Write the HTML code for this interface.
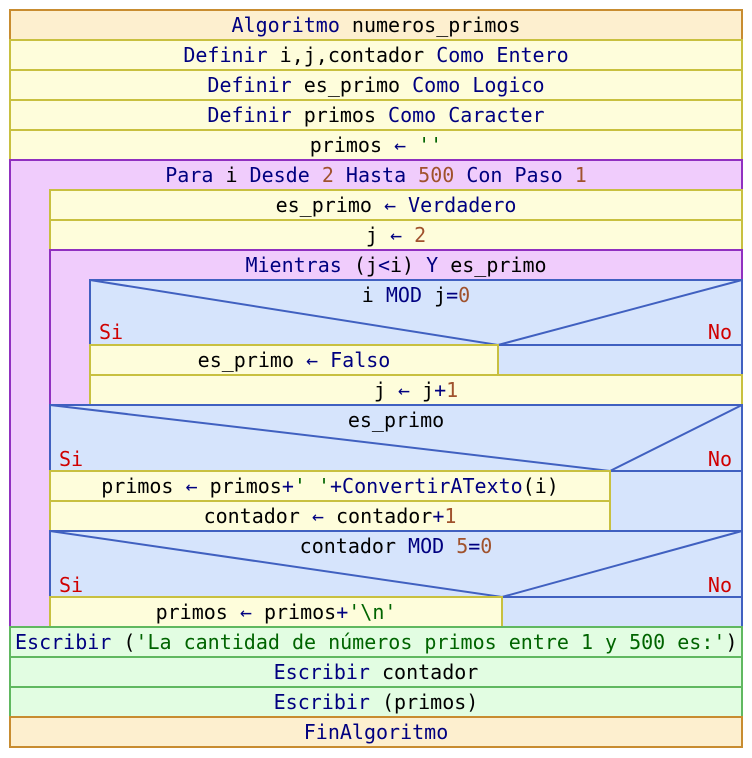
<!DOCTYPE html>
<html><head><meta charset="utf-8"><style>
body{margin:0;background:#fff}
svg{display:block}
text{font-family:"DejaVu Sans Mono","Liberation Mono",monospace;font-size:20px;fill:#000080}
.b{fill:#000}.n{fill:#a0522d}.s{fill:#006400}.r{fill:#d00000}
</style></head><body>
<svg width="752" height="758" viewBox="0 0 752 758" xmlns="http://www.w3.org/2000/svg">
<g stroke-width="2">
<!-- header rows -->
<rect x="10" y="10" width="732" height="30" fill="#fdefcf" stroke="#c88c30"/>
<rect x="10" y="40" width="732" height="30" fill="#fefddb" stroke="#c8c040"/>
<rect x="10" y="70" width="732" height="30" fill="#fefddb" stroke="#c8c040"/>
<rect x="10" y="100" width="732" height="30" fill="#fefddb" stroke="#c8c040"/>
<rect x="10" y="130" width="732" height="30" fill="#fefddb" stroke="#c8c040"/>
<!-- Para -->
<rect x="10" y="160" width="732" height="467" fill="#f0ccfc" stroke="#9030c0"/>
<rect x="50" y="190" width="692" height="30" fill="#fefddb" stroke="#c8c040"/>
<rect x="50" y="220" width="692" height="30" fill="#fefddb" stroke="#c8c040"/>
<!-- Mientras -->
<rect x="50" y="250" width="692" height="155" fill="#f0ccfc" stroke="#9030c0"/>
<!-- If1 -->
<rect x="90" y="280" width="652" height="95" fill="#d6e4fc" stroke="#4060c0"/>
<polyline points="90,280 498,345 742,280" fill="none" stroke="#4060c0"/>
<line x1="90" y1="345" x2="742" y2="345" stroke="#4060c0"/>
<rect x="90" y="345" width="408" height="30" fill="#fefddb" stroke="#c8c040"/>
<rect x="90" y="375" width="652" height="30" fill="#fefddb" stroke="#c8c040"/>
<!-- If2 -->
<rect x="50" y="405" width="692" height="126" fill="#d6e4fc" stroke="#4060c0"/>
<polyline points="50,405 610,471 742,405" fill="none" stroke="#4060c0"/>
<line x1="50" y1="471" x2="742" y2="471" stroke="#4060c0"/>
<rect x="50" y="471" width="560" height="30" fill="#fefddb" stroke="#c8c040"/>
<rect x="50" y="501" width="560" height="30" fill="#fefddb" stroke="#c8c040"/>
<!-- If3 -->
<rect x="50" y="531" width="692" height="96" fill="#d6e4fc" stroke="#4060c0"/>
<polyline points="50,531 502,597 742,531" fill="none" stroke="#4060c0"/>
<line x1="50" y1="597" x2="742" y2="597" stroke="#4060c0"/>
<rect x="50" y="597" width="452" height="30" fill="#fefddb" stroke="#c8c040"/>
<!-- Escribir -->
<rect x="10" y="627" width="732" height="30" fill="#e2fde2" stroke="#60b860"/>
<rect x="10" y="657" width="732" height="30" fill="#e2fde2" stroke="#60b860"/>
<rect x="10" y="687" width="732" height="30" fill="#e2fde2" stroke="#60b860"/>
<rect x="10" y="717" width="732" height="30" fill="#fdefcf" stroke="#c88c30"/>
</g>
<g text-anchor="middle">
<text x="376" y="32">Algoritmo <tspan class="b">numeros_primos</tspan></text>
<text x="376" y="62">Definir <tspan class="b">i,j,contador</tspan> Como Entero</text>
<text x="376" y="92">Definir <tspan class="b">es_primo</tspan> Como Logico</text>
<text x="376" y="122">Definir <tspan class="b">primos</tspan> Como Caracter</text>
<text x="376" y="152"><tspan class="b">primos</tspan> ← <tspan class="s">''</tspan></text>
<text x="376" y="182">Para <tspan class="b">i</tspan> Desde <tspan class="n">2</tspan> Hasta <tspan class="n">500</tspan> Con Paso <tspan class="n">1</tspan></text>
<text x="396" y="212"><tspan class="b">es_primo</tspan> ← Verdadero</text>
<text x="396" y="242"><tspan class="b">j</tspan> ← <tspan class="n">2</tspan></text>
<text x="396" y="272">Mientras <tspan class="b">(j</tspan>&lt;<tspan class="b">i)</tspan> Y <tspan class="b">es_primo</tspan></text>
<text x="416" y="302"><tspan class="b">i</tspan> MOD <tspan class="b">j</tspan>=<tspan class="n">0</tspan></text>
<text x="294" y="367"><tspan class="b">es_primo</tspan> ← Falso</text>
<text x="416" y="397"><tspan class="b">j</tspan> ← <tspan class="b">j</tspan>+<tspan class="n">1</tspan></text>
<text x="396" y="427"><tspan class="b">es_primo</tspan></text>
<text x="330" y="493"><tspan class="b">primos</tspan> ← <tspan class="b">primos</tspan>+<tspan class="s">' '</tspan>+ConvertirATexto<tspan class="b">(i)</tspan></text>
<text x="330" y="523"><tspan class="b">contador</tspan> ← <tspan class="b">contador</tspan>+<tspan class="n">1</tspan></text>
<text x="396" y="553"><tspan class="b">contador</tspan> MOD <tspan class="n">5</tspan>=<tspan class="n">0</tspan></text>
<text x="276" y="619"><tspan class="b">primos</tspan> ← <tspan class="b">primos</tspan>+<tspan class="s">'\n'</tspan></text>
<text x="376" y="679">Escribir <tspan class="b">contador</tspan></text>
<text x="376" y="709">Escribir <tspan class="b">(primos)</tspan></text>
<text x="376" y="739">FinAlgoritmo</text>
</g>
<text x="15" y="649">Escribir <tspan class="b">(</tspan><tspan class="s">'La cantidad de números primos entre 1 y 500 es:'</tspan><tspan class="b">)</tspan></text>
<text class="r" x="99" y="339">Si</text>
<text class="r" x="732" y="339" text-anchor="end">No</text>
<text class="r" x="59" y="466">Si</text>
<text class="r" x="732" y="466" text-anchor="end">No</text>
<text class="r" x="59" y="592">Si</text>
<text class="r" x="732" y="592" text-anchor="end">No</text>
</svg>
</body></html>
